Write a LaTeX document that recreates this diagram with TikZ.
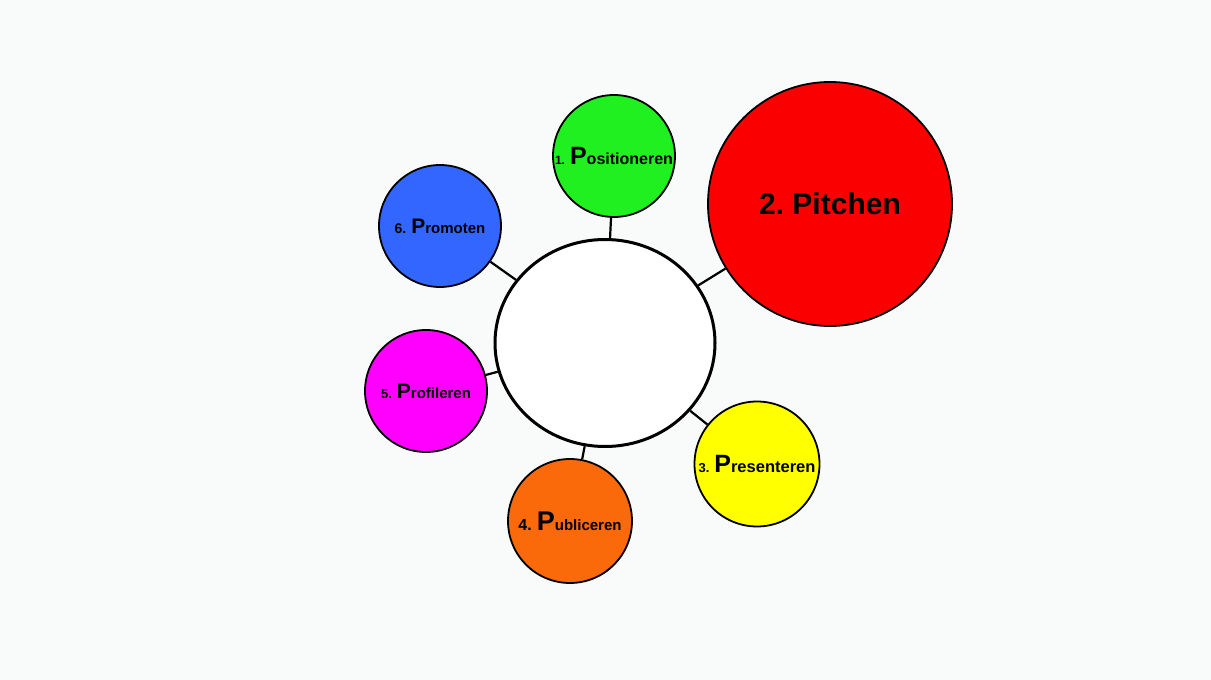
\documentclass[tikz,border=0pt]{standalone}
\usepackage{fontspec}
\setmainfont{Liberation Sans}
\usetikzlibrary{shapes.geometric}
\frenchspacing
\definecolor{bgpaper}{RGB}{249,250,250}
\definecolor{pgreen}{RGB}{32,240,32}
\definecolor{pred}{RGB}{250,0,0}
\definecolor{pyellow}{RGB}{255,255,0}
\definecolor{porange}{RGB}{250,106,10}
\definecolor{pmagenta}{RGB}{255,0,255}
\definecolor{pblue}{RGB}{51,102,255}
% number, rest of word, size of number, size of P, size of rest
\newcommand{\pstep}[5]{{\fontsize{#3}{#3}\selectfont #1.}\hspace{5pt}{\fontsize{#4}{#4}\selectfont P}{\fontsize{#5}{#5}\selectfont #2}}

\begin{document}
\begin{tikzpicture}[x=1pt,y=-1pt,font=\bfseries,
  bubble/.style={circle,draw,line width=1.8pt,inner sep=0pt,minimum size=#1},
  link/.style={line width=2.2pt}]
\fill[bgpaper] (0,0) rectangle (1211,680);
\useasboundingbox (0,0) rectangle (1211,680);
\node[ellipse,draw,fill=white,line width=3pt,minimum width=220pt,minimum height=207pt] (hub) at (605,343) {};
\node[bubble=122pt,fill=pgreen] (pos) at (614,156) {\pstep{1}{ositioneren}{12}{25}{16}};
\node[bubble=244pt,fill=pred] (pit) at (830,204) {\fontsize{30}{30}\selectfont 2. Pitchen};
\node[bubble=125pt,fill=pyellow] (pres) at (757,464) {\pstep{3}{resenteren}{13}{25}{16.5}};
\node[bubble=124pt,fill=porange] (pub) at (570,521) {\pstep{4}{ubliceren}{16}{27}{15}};
\node[bubble=122pt,fill=pmagenta] (prof) at (426,391) {\pstep{5}{rofileren}{13}{21}{15}};
\node[bubble=122pt,fill=pblue] (prom) at (440,226) {\pstep{6}{romoten}{14}{21}{15}};
% spokes
\draw[link] (hub) -- (pos);
\draw[link] (hub) -- (pit);
\draw[link] (hub) -- (pres);
\draw[link] (hub) -- (pub);
\draw[link] (hub) -- (prof);
\draw[link] (hub) -- (prom);
\end{tikzpicture}
\end{document}
